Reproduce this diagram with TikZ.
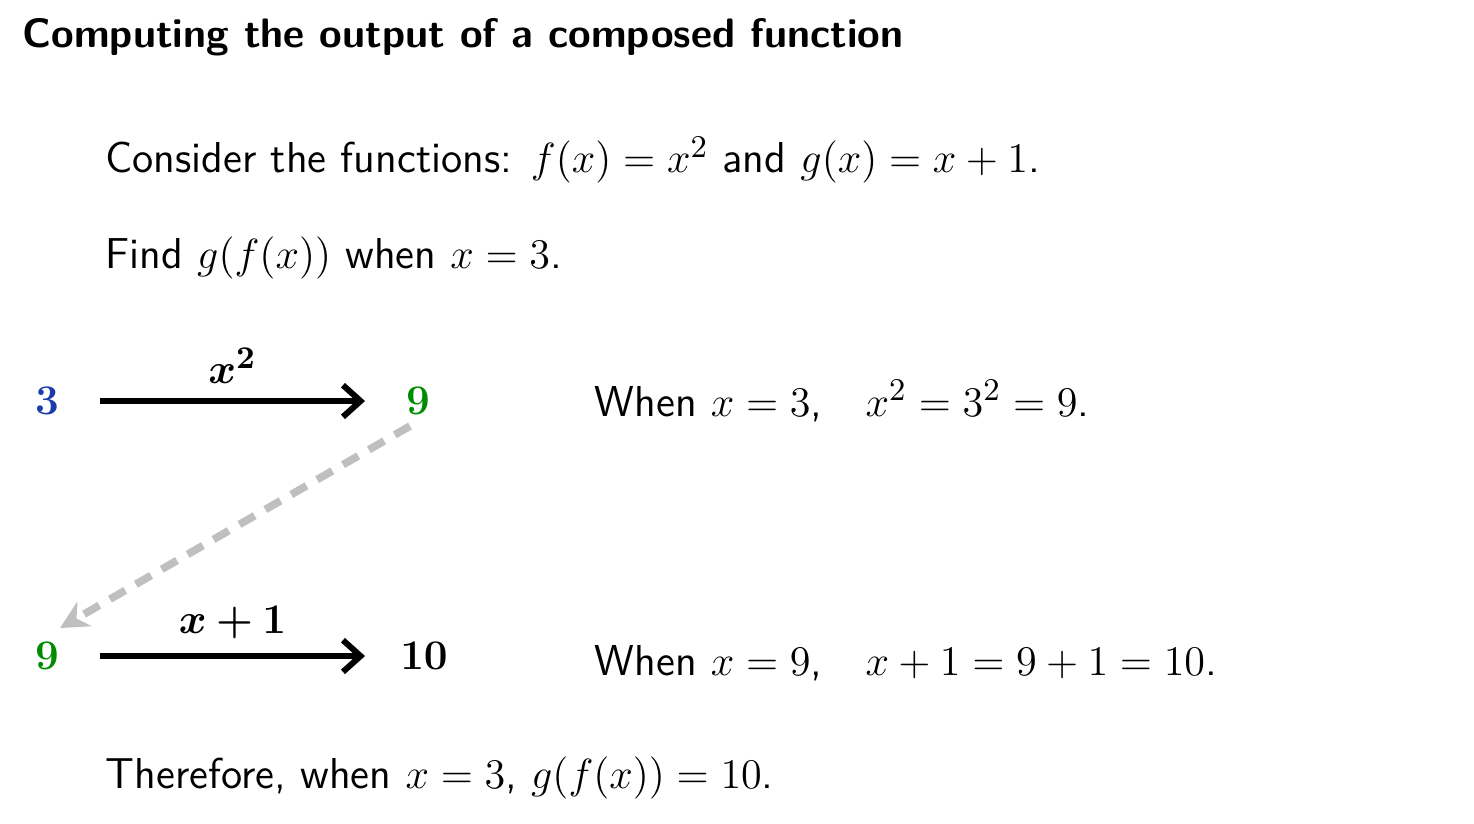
\documentclass[tikz,border=0pt]{standalone}
\usepackage{amsmath,bm}
\usetikzlibrary{arrows.meta}
\definecolor{myblue}{RGB}{25,60,170}
\definecolor{mygreen}{RGB}{0,140,0}
\begin{document}
\begin{tikzpicture}[x=0.01cm,y=-0.01cm,
  txt/.style={anchor=west,inner sep=0pt,font=\fontsize{12.3}{15}\selectfont\sffamily},
  num/.style={inner sep=2pt,font=\fontsize{13}{15}\selectfont},
  arr/.style={line width=1.7pt,-{Straight Barb[length=5pt,width=9pt]}},
  dsh/.style={line width=2.2pt,gray!50,dash pattern=on 5pt off 3.5pt,-{Stealth[length=8pt,width=8pt]}}]
\useasboundingbox (0,0) rectangle (1474,823);
\node[anchor=west,inner sep=0pt,font=\fontsize{11.7}{14}\selectfont\sffamily\bfseries] (title) at (22,37) {Computing the output of a composed function};
\node[txt] (c) at (105,160) {Consider the functions: $f(x)=x^2$ and $g(x)=x+1$.};
\node[txt] (f) at (105,258) {Find $g(f(x))$ when $x=3$.};
\node[num,text=myblue] (a) at (47,401) {$\bm{3}$};
\node[num,text=mygreen] (b) at (418,401) {$\bm{9}$};
\node[num,text=mygreen] (c2) at (47,656) {$\bm{9}$};
\node[num] (d) at (424,656) {$\bm{10}$};
\coordinate (a1) at (100,401); \coordinate (a2) at (365,401);
\coordinate (b1) at (100,656); \coordinate (b2) at (365,656);
\draw[arr] (a1) -- node[above=2pt,num]{$\bm{x^2}$} (a2);
\draw[arr] (b1) -- node[above=2pt,num]{$\bm{x+1}$} (b2);
\coordinate (s) at (410,426); \coordinate (e) at (60,628);
\draw[dsh] (s) -- (e);
\node[txt] (w1) at (594,401) {When $x=3$,\quad$x^2=3^2=9$.};
\node[txt] (w2) at (594,663) {When $x=9$,\quad$x+1=9+1=10$.};
\node[txt] (t) at (105,778) {Therefore, when $x=3$, $g(f(x))=10$.};
\end{tikzpicture}
\end{document}
